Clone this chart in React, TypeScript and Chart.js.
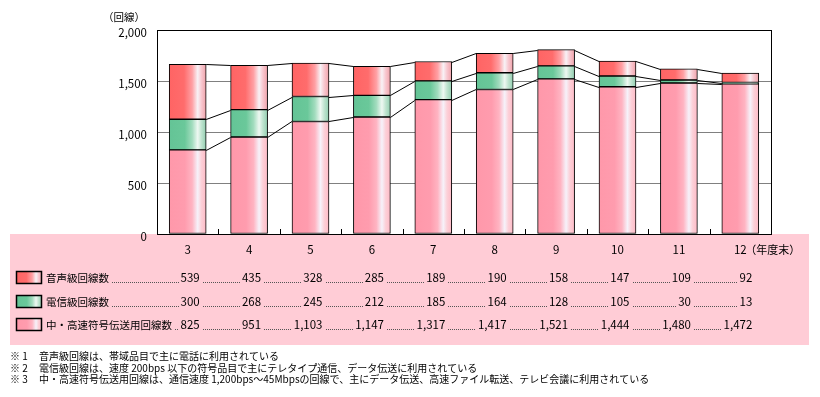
import React, { useEffect, useRef } from 'react';
import { Chart, registerables } from 'chart.js';

Chart.register(...registerables);

// ---- data ----
const categories = ['3', '4', '5', '6', '7', '8', '9', '10', '11', '12'];
const categorySuffix = '（年度末）';
const voiceLines = [539, 435, 328, 285, 189, 190, 158, 147, 109, 92];
const telegraphLines = [300, 268, 245, 212, 185, 164, 128, 105, 30, 13];
const highSpeedLines = [825, 951, 1103, 1147, 1317, 1417, 1521, 1444, 1480, 1472];
const seriesNames = ['音声級回線数', '電信級回線数', '中・高速符号伝送用回線数'];
const yTickValues = [0, 500, 1000, 1500, 2000];
const yUnit = '（回線）';
const noteMarks = ['※ 1', '※ 2', '※ 3'];
const notes = [
  '音声級回線は、帯域品目で主に電話に利用されている',
  '電信級回線は、速度 200bps 以下の符号品目で主にテレタイプ通信、データ伝送に利用されている',
  '中・高速符号伝送用回線は、通信速度 1,200bps～45Mbpsの回線で、主にデータ伝送、高速ファイル転送、テレビ会議に利用されている',
];

// ---- styles ----
const FONT = '"Noto Sans CJK JP", "Noto Sans", sans-serif';
const BAR_W = 37;
type Stops = [number, string][];
const redStops: Stops = [[0, '#ff6464'], [0.4, '#ff6c6c'], [0.62, '#ffa0a4'], [0.77, '#f8f2f6'], [0.87, '#f8c8d0'], [1, '#f0a2aa']];
const greenStops: Stops = [[0, '#64c496'], [0.42, '#6ac89a'], [0.62, '#a2dcbe'], [0.77, '#eef8f2'], [0.87, '#c0e4d0'], [1, '#92ceb0']];
const pinkStops: Stops = [[0, '#ff98aa'], [0.42, '#ff9cae'], [0.62, '#ffb4c2'], [0.77, '#f6f2fa'], [0.87, '#fcd0d8'], [1, '#ffbac6']];
const PINK_BG = '#ffccd6';

function grad(ctx: CanvasRenderingContext2D, x0: number, x1: number, stops: Stops) {
  const g = ctx.createLinearGradient(x0, 0, x1, 0);
  stops.forEach(([o, c]) => g.addColorStop(o, c));
  return g;
}

function barFill(stops: Stops) {
  return (c: any) => {
    const chart = c.chart;
    const xs = chart.scales && chart.scales.x;
    if (!xs || c.dataIndex === undefined) return stops[0][1];
    const cx = xs.getPixelForValue(c.dataIndex);
    if (!isFinite(cx)) return stops[0][1];
    return grad(chart.ctx, cx - BAR_W / 2, cx + BAR_W / 2, stops);
  };
}

const fmt = (v: number) => v.toLocaleString('en-US');

const drawPlugin = {
  id: 'custom',
  beforeDraw(chart: any) {
    const ctx = chart.ctx as CanvasRenderingContext2D;
    ctx.save();
    ctx.fillStyle = '#ffffff';
    ctx.fillRect(0, 0, chart.width, chart.height);
    ctx.fillStyle = PINK_BG;
    ctx.fillRect(10, chart.chartArea.bottom, 799, 345 - chart.chartArea.bottom);
    ctx.restore();
  },
  afterDatasetsDraw(chart: any) {
    const ctx = chart.ctx as CanvasRenderingContext2D;
    const area = chart.chartArea;
    ctx.save();
    ctx.strokeStyle = '#000';
    ctx.lineWidth = 1;
    // connecting lines between bar tops
    for (let d = 0; d < chart.data.datasets.length; d++) {
      const meta = chart.getDatasetMeta(d);
      for (let i = 0; i < meta.data.length - 1; i++) {
        const a = meta.data[i];
        const b = meta.data[i + 1];
        ctx.beginPath();
        ctx.moveTo(a.x + a.width / 2, Math.round(a.y) + 0.5);
        ctx.lineTo(b.x - b.width / 2, Math.round(b.y) + 0.5);
        ctx.stroke();
      }
    }
    // tick marks at category boundaries
    const n = categories.length;
    const cw = (area.right - area.left) / n;
    for (let i = 1; i < n; i++) {
      const x = Math.round(area.left + cw * i) + 0.5;
      ctx.beginPath();
      ctx.moveTo(x, area.bottom);
      ctx.lineTo(x, area.bottom - 5);
      ctx.stroke();
    }
    // frame
    ctx.strokeRect(Math.round(area.left) + 0.5, Math.round(area.top) + 0.5, Math.round(area.right - area.left), Math.round(area.bottom - area.top));
    ctx.restore();
  },
  afterDraw(chart: any) {
    const ctx = chart.ctx as CanvasRenderingContext2D;
    const xs = chart.scales.x;
    ctx.save();
    ctx.fillStyle = '#000';
    // y unit
    ctx.font = `10.5px ${FONT}`;
    ctx.textAlign = 'center';
    ctx.textBaseline = 'middle';
    ctx.fillText(yUnit, 124, 17);
    // suffix after last category label
    ctx.font = `11px ${FONT}`;
    ctx.textAlign = 'left';
    const lastX = xs.getPixelForValue(categories.length - 1);
    ctx.fillText(categorySuffix, lastX + 5, 250);

    // table
    const rows = [
      { name: seriesNames[0], values: voiceLines, stops: redStops, y: 278 },
      { name: seriesNames[1], values: telegraphLines, stops: greenStops, y: 302 },
      { name: seriesNames[2], values: highSpeedLines, stops: pinkStops, y: 325 },
    ];
    rows.forEach((r) => {
      // legend box
      ctx.fillStyle = grad(ctx, 16, 42, r.stops);
      ctx.fillRect(16, r.y - 7, 26, 13);
      ctx.strokeStyle = '#000';
      ctx.lineWidth = 1.5;
      ctx.strokeRect(16.5, r.y - 6.5, 25, 12);
      // label
      ctx.fillStyle = '#000';
      ctx.font = `10.5px ${FONT}`;
      ctx.textAlign = 'left';
      ctx.textBaseline = 'middle';
      ctx.fillText(r.name, 46, r.y);
      let prevEnd = 46 + ctx.measureText(r.name).width;
      ctx.font = `11.5px ${FONT}`;
      r.values.forEach((v, i) => {
        const right = xs.getPixelForValue(i) + 12;
        const s = fmt(v);
        const w = ctx.measureText(s).width;
        const start = right - w;
        // dotted leader
        ctx.save();
        ctx.strokeStyle = '#555';
        ctx.lineWidth = 1;
        ctx.setLineDash([1, 1]);
        ctx.beginPath();
        ctx.moveTo(Math.round(prevEnd + 3), r.y + 4.5);
        ctx.lineTo(Math.round(start - 2), r.y + 4.5);
        ctx.stroke();
        ctx.restore();
        ctx.textAlign = 'right';
        ctx.fillText(s, right, r.y);
        ctx.textAlign = 'left';
        prevEnd = right;
      });
    });

    // footnotes
    ctx.font = `10px ${FONT}`;
    ctx.textAlign = 'left';
    ctx.textBaseline = 'middle';
    ctx.fillStyle = '#000';
    notes.forEach((t, i) => {
      const y = 356 + i * 11.8;
      ctx.fillText(noteMarks[i], 10, y);
      ctx.fillText(t, 39, y);
    });
    ctx.restore();
  },
};

export default function App() {
  const ref = useRef<HTMLCanvasElement | null>(null);
  useEffect(() => {
    document.body.style.margin = '0';
    const canvas = ref.current!;
    const chart = new Chart(canvas, {
      type: 'bar',
      data: {
        labels: categories,
        datasets: [
          { label: seriesNames[2], data: highSpeedLines, backgroundColor: barFill(pinkStops) as any },
          { label: seriesNames[1], data: telegraphLines, backgroundColor: barFill(greenStops) as any },
          { label: seriesNames[0], data: voiceLines, backgroundColor: barFill(redStops) as any },
        ].map((d) => ({ ...d, borderColor: '#000', borderWidth: 1, borderSkipped: false, barThickness: BAR_W })),
      },
      options: {
        responsive: false,
        animation: false,
        devicePixelRatio: 1,
        layout: { padding: { left: 0, top: 30, right: 49, bottom: 143 } },
        plugins: { legend: { display: false }, tooltip: { enabled: false }, title: { display: false } },
        scales: {
          x: {
            stacked: true,
            grid: { display: false, drawTicks: false },
            border: { display: false },
            ticks: { color: '#000', font: { family: FONT, size: 11.5 }, padding: 9, maxRotation: 0 },
            afterFit: (s: any) => { s.height = 20; },
          },
          y: {
            stacked: true,
            min: yTickValues[0],
            max: yTickValues[yTickValues.length - 1],
            afterBuildTicks: (s: any) => { s.ticks = yTickValues.map((v) => ({ value: v })); },
            grid: {
              drawTicks: false,
              color: (c: any) => (c.tick && (c.tick.value === 0 || c.tick.value === 2000) ? 'rgba(0,0,0,0)' : '#808080'),
              lineWidth: 1,
            },
            border: { display: false },
            ticks: {
              color: '#000',
              font: { family: FONT, size: 11.5 },
              padding: 10,
              labelOffset: 3,
              callback: (v: any) => fmt(Number(v)),
            },
            afterFit: (s: any) => { s.width = 157; },
          },
        },
      },
      plugins: [drawPlugin],
    });
    return () => chart.destroy();
  }, []);
  return <canvas ref={ref} width={820} height={397} style={{ display: 'block', width: 820, height: 397 }} />;
}
